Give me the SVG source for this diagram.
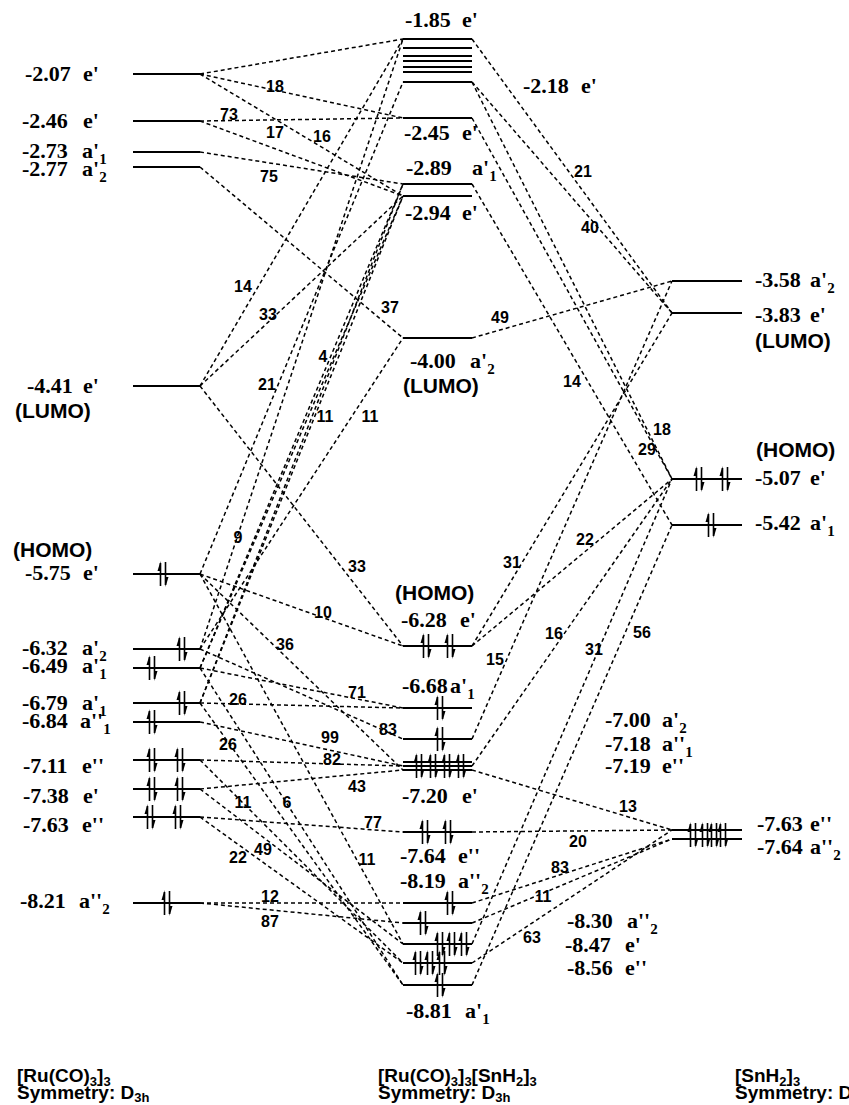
<svg xmlns="http://www.w3.org/2000/svg" xmlns:xlink="http://www.w3.org/1999/xlink" width="849" height="1105" viewBox="0 0 849 1105">
<style>
.lv{stroke:#000;stroke-width:1.8}
.cn path{stroke:#000;stroke-width:1.5;stroke-dasharray:4 3;fill:none}
.e{font-family:"Liberation Serif","Times New Roman",Times,serif;font-weight:bold;font-size:22px;fill:#000}
.sb{font-size:15px}
.s{font-family:"Liberation Sans",Arial,sans-serif;font-weight:bold;font-size:21px;fill:#000}
.n{font-family:"Liberation Sans",Arial,sans-serif;font-weight:bold;font-size:16px;text-anchor:middle;fill:#000}
.b{font-family:"Liberation Sans",Arial,sans-serif;font-weight:bold;font-size:19px;fill:#000}
.b .sb{font-size:13px}
</style>
<defs>
<g id="pr">
<path d="M-2.5,12 V-11 M2.5,-12 V11" stroke="#000" stroke-width="1.6" fill="none"/>
<path d="M-2.5,-13 L-5.5,-3 L-2.5,-3 Z M2.5,13 L5.5,3 L2.5,3 Z" fill="#000"/>
</g>
</defs>
<rect width="849" height="1105" fill="#fff"/>

<g id="connectors" class="cn">
<path d="M200,74 L403,39"/>
<path d="M200,74 L403,118"/>
<path d="M200,74 L403,196"/>
<path d="M200,121 L403,118"/>
<path d="M200,121 L403,196"/>
<path d="M200,152 L403,184"/>
<path d="M200,167 L403,338"/>
<path d="M200,386 L403,39"/>
<path d="M200,386 L403,196"/>
<path d="M200,386 L403,646"/>
<path d="M200,574 L403,82"/>
<path d="M200,574 L403,646"/>
<path d="M200,574 L403,770"/>
<path d="M200,574 L403,944"/>
<path d="M200,649 L403,338"/>
<path d="M200,649 L403,39"/>
<path d="M200,668 L403,184"/>
<path d="M200,668 L403,196"/>
<path d="M200,703 L403,184"/>
<path d="M200,703 L403,196"/>
<path d="M200,649 L403,739"/>
<path d="M200,668 L403,708"/>
<path d="M200,703 L403,708"/>
<path d="M200,722 L403,766"/>
<path d="M200,760 L403,766"/>
<path d="M200,789 L403,770"/>
<path d="M200,817 L403,832"/>
<path d="M200,903 L403,903"/>
<path d="M200,903 L403,923"/>
<path d="M200,817 L403,963"/>
<path d="M200,789 L403,944"/>
<path d="M200,760 L403,963"/>
<path d="M200,668 L403,985"/>
<path d="M200,703 L403,985"/>
<path d="M472,338 L672,281"/>
<path d="M472,39 L672,313"/>
<path d="M472,82 L672,313"/>
<path d="M472,82 L672,479"/>
<path d="M472,118 L672,479"/>
<path d="M472,184 L672,525"/>
<path d="M472,646 L672,479"/>
<path d="M472,646 L672,313"/>
<path d="M472,739 L672,281"/>
<path d="M472,766 L672,479"/>
<path d="M472,944 L672,479"/>
<path d="M472,985 L672,525"/>
<path d="M472,770 L672,830"/>
<path d="M472,832 L672,830"/>
<path d="M472,903 L672,839"/>
<path d="M472,923 L672,839"/>
<path d="M472,963 L672,830"/>
</g>

<g id="connector-labels">
<text class="n" x="275" y="92">18</text>
<text class="n" x="229" y="120">73</text>
<text class="n" x="275" y="138">17</text>
<text class="n" x="322" y="142">16</text>
<text class="n" x="269" y="182">75</text>
<text class="n" x="243" y="292">14</text>
<text class="n" x="268" y="320">33</text>
<text class="n" x="390" y="313">37</text>
<text class="n" x="323" y="362">4</text>
<text class="n" x="267" y="390">21</text>
<text class="n" x="325" y="422">11</text>
<text class="n" x="370" y="422">11</text>
<text class="n" x="238" y="543">9</text>
<text class="n" x="357" y="572">33</text>
<text class="n" x="323" y="618">10</text>
<text class="n" x="285" y="650">36</text>
<text class="n" x="357" y="698">71</text>
<text class="n" x="238" y="705">26</text>
<text class="n" x="388" y="735">83</text>
<text class="n" x="330" y="743">99</text>
<text class="n" x="228" y="750">26</text>
<text class="n" x="332" y="765">82</text>
<text class="n" x="357" y="792">43</text>
<text class="n" x="243" y="808">11</text>
<text class="n" x="287" y="808">6</text>
<text class="n" x="373" y="828">77</text>
<text class="n" x="263" y="855">49</text>
<text class="n" x="238" y="863">22</text>
<text class="n" x="367" y="865">11</text>
<text class="n" x="270" y="902">12</text>
<text class="n" x="270" y="927">87</text>
<text class="n" x="500" y="323">49</text>
<text class="n" x="583" y="177">21</text>
<text class="n" x="590" y="233">40</text>
<text class="n" x="662" y="435">18</text>
<text class="n" x="647" y="455">29</text>
<text class="n" x="572" y="387">14</text>
<text class="n" x="585" y="545">22</text>
<text class="n" x="512" y="568">31</text>
<text class="n" x="495" y="665">15</text>
<text class="n" x="554" y="639">16</text>
<text class="n" x="594" y="655">31</text>
<text class="n" x="642" y="638">56</text>
<text class="n" x="628" y="812">13</text>
<text class="n" x="578" y="847">20</text>
<text class="n" x="560" y="873">83</text>
<text class="n" x="543" y="902">11</text>
<text class="n" x="532" y="943">63</text>
</g>

<g id="L1"><line class="lv" x1="133" y1="74" x2="200" y2="74"/><text class="e" y="81"><tspan x="25">-2.07</tspan><tspan x="83">e'</tspan></text></g>
<g id="L2"><line class="lv" x1="133" y1="121" x2="200" y2="121"/><text class="e" y="128"><tspan x="22">-2.46</tspan><tspan x="83">e'</tspan></text></g>
<g id="L3"><line class="lv" x1="133" y1="152" x2="200" y2="152"/><text class="e" y="158"><tspan x="22">-2.73</tspan><tspan x="82">a'</tspan><tspan class="sb" dy="6">1</tspan></text></g>
<g id="L4"><line class="lv" x1="133" y1="167" x2="200" y2="167"/><text class="e" y="176"><tspan x="22">-2.77</tspan><tspan x="82">a'</tspan><tspan class="sb" dy="6">2</tspan></text></g>
<g id="L5"><line class="lv" x1="133" y1="386" x2="200" y2="386"/><text class="e" y="393"><tspan x="27">-4.41</tspan><tspan x="83">e'</tspan></text><text class="s" x="15" y="418">(LUMO)</text></g>
<g id="L6"><line class="lv" x1="133" y1="574" x2="200" y2="574"/><use xlink:href="#pr" x="163" y="574"/><text class="s" x="13" y="557">(HOMO)</text><text class="e" y="580"><tspan x="25">-5.75</tspan><tspan x="83">e'</tspan></text></g>
<g id="L7"><line class="lv" x1="133" y1="649" x2="200" y2="649"/><use xlink:href="#pr" x="182" y="649"/><text class="e" y="655"><tspan x="22">-6.32</tspan><tspan x="82">a'</tspan><tspan class="sb" dy="6">2</tspan></text></g>
<g id="L8"><line class="lv" x1="133" y1="668" x2="200" y2="668"/><use xlink:href="#pr" x="152" y="668"/><text class="e" y="673"><tspan x="22">-6.49</tspan><tspan x="82">a'</tspan><tspan class="sb" dy="6">1</tspan></text></g>
<g id="L9"><line class="lv" x1="133" y1="703" x2="200" y2="703"/><use xlink:href="#pr" x="182" y="703"/><text class="e" y="710"><tspan x="22">-6.79</tspan><tspan x="82">a'</tspan><tspan class="sb" dy="6">1</tspan></text></g>
<g id="L10"><line class="lv" x1="133" y1="722" x2="200" y2="722"/><use xlink:href="#pr" x="152" y="722"/><text class="e" y="728"><tspan x="22">-6.84</tspan><tspan x="80">a''</tspan><tspan class="sb" dy="6">1</tspan></text></g>
<g id="L11"><line class="lv" x1="133" y1="760" x2="200" y2="760"/><use xlink:href="#pr" x="152" y="760"/><use xlink:href="#pr" x="180" y="760"/><text class="e" y="773"><tspan x="23">-7.11</tspan><tspan x="82">e''</tspan></text></g>
<g id="L12"><line class="lv" x1="133" y1="789" x2="200" y2="789"/><use xlink:href="#pr" x="152" y="789"/><use xlink:href="#pr" x="180" y="789"/><text class="e" y="803"><tspan x="23">-7.38</tspan><tspan x="83">e'</tspan></text></g>
<g id="L13"><line class="lv" x1="133" y1="817" x2="200" y2="817"/><use xlink:href="#pr" x="150" y="817"/><use xlink:href="#pr" x="178" y="817"/><text class="e" y="832"><tspan x="23">-7.63</tspan><tspan x="82">e''</tspan></text></g>
<g id="L14"><line class="lv" x1="133" y1="903" x2="200" y2="903"/><use xlink:href="#pr" x="167" y="903"/><text class="e" y="908"><tspan x="20">-8.21</tspan><tspan x="79">a''</tspan><tspan class="sb" dy="6">2</tspan></text></g>

<g id="C-top">
<line class="lv" x1="403" y1="39" x2="472" y2="39"/>
<line class="lv" x1="403" y1="48" x2="472" y2="48"/>
<line class="lv" x1="403" y1="56" x2="472" y2="56"/>
<line class="lv" x1="403" y1="61" x2="472" y2="61"/>
<line class="lv" x1="403" y1="67" x2="472" y2="67"/>
<line class="lv" x1="403" y1="72" x2="472" y2="72"/>
<line class="lv" x1="403" y1="82" x2="472" y2="82"/>
<text class="e" y="27"><tspan x="405">-1.85</tspan><tspan x="462">e'</tspan></text>
<text class="e" y="93"><tspan x="523">-2.18</tspan><tspan x="581">e'</tspan></text>
</g>
<g id="C8"><line class="lv" x1="403" y1="118" x2="472" y2="118"/><text class="e" y="140"><tspan x="404">-2.45</tspan><tspan x="462">e'</tspan></text></g>
<g id="C9"><line class="lv" x1="403" y1="184" x2="472" y2="184"/><text class="e" y="175"><tspan x="406">-2.89</tspan><tspan x="472">a'</tspan><tspan class="sb" dy="6">1</tspan></text></g>
<g id="C10"><line class="lv" x1="403" y1="196" x2="472" y2="196"/><text class="e" y="220"><tspan x="405">-2.94</tspan><tspan x="462">e'</tspan></text></g>
<g id="C11"><line class="lv" x1="403" y1="338" x2="472" y2="338"/><text class="e" y="368"><tspan x="410">-4.00</tspan><tspan x="470">a'</tspan><tspan class="sb" dy="6">2</tspan></text><text class="s" x="403" y="393">(LUMO)</text></g>
<g id="C12"><line class="lv" x1="403" y1="646" x2="472" y2="646"/><use xlink:href="#pr" x="426" y="646"/><use xlink:href="#pr" x="450" y="646"/><text class="s" x="395" y="600">(HOMO)</text><text class="e" y="627"><tspan x="401">-6.28</tspan><tspan x="460">e'</tspan></text></g>
<g id="C13"><line class="lv" x1="403" y1="708" x2="472" y2="708"/><use xlink:href="#pr" x="440" y="708"/><text class="e" y="693"><tspan x="402">-6.68</tspan><tspan x="450">a'</tspan><tspan class="sb" dy="6">1</tspan></text></g>
<g id="C14"><line class="lv" x1="403" y1="739" x2="472" y2="739"/><use xlink:href="#pr" x="440" y="739"/></g>
<g id="C15">
<line class="lv" x1="403" y1="762" x2="472" y2="762"/>
<line class="lv" x1="403" y1="766" x2="472" y2="766"/>
<line class="lv" x1="403" y1="770" x2="472" y2="770"/>
<use xlink:href="#pr" x="419" y="766"/><use xlink:href="#pr" x="433" y="766"/><use xlink:href="#pr" x="447" y="766"/><use xlink:href="#pr" x="461" y="766"/>
<text class="e" y="803"><tspan x="402">-7.20</tspan><tspan x="462">e'</tspan></text>
<text class="e" y="727"><tspan x="605">-7.00</tspan><tspan x="662">a'</tspan><tspan class="sb" dy="6">2</tspan></text>
<text class="e" y="751"><tspan x="605">-7.18</tspan><tspan x="662">a''</tspan><tspan class="sb" dy="6">1</tspan></text>
<text class="e" y="773"><tspan x="605">-7.19</tspan><tspan x="662">e''</tspan></text>
</g>
<g id="C16"><line class="lv" x1="403" y1="832" x2="472" y2="832"/><use xlink:href="#pr" x="425" y="832"/><use xlink:href="#pr" x="448" y="832"/><text class="e" y="863"><tspan x="400">-7.64</tspan><tspan x="458">e''</tspan></text></g>
<g id="C17"><line class="lv" x1="403" y1="903" x2="472" y2="903"/><use xlink:href="#pr" x="450" y="903"/><text class="e" y="888"><tspan x="400">-8.19</tspan><tspan x="458">a''</tspan><tspan class="sb" dy="6">2</tspan></text></g>
<g id="C18"><line class="lv" x1="403" y1="923" x2="472" y2="923"/><use xlink:href="#pr" x="423" y="923"/><text class="e" y="928"><tspan x="567">-8.30</tspan><tspan x="627">a''</tspan><tspan class="sb" dy="6">2</tspan></text></g>
<g id="C19"><line class="lv" x1="403" y1="944" x2="472" y2="944"/><use xlink:href="#pr" x="440" y="944"/><use xlink:href="#pr" x="452" y="944"/><use xlink:href="#pr" x="464" y="944"/><text class="e" y="952"><tspan x="565">-8.47</tspan><tspan x="625">e'</tspan></text></g>
<g id="C20"><line class="lv" x1="403" y1="963" x2="472" y2="963"/><use xlink:href="#pr" x="418" y="963"/><use xlink:href="#pr" x="430" y="963"/><use xlink:href="#pr" x="442" y="963"/><text class="e" y="975"><tspan x="567">-8.56</tspan><tspan x="625">e''</tspan></text></g>
<g id="C21"><line class="lv" x1="403" y1="985" x2="472" y2="985"/><use xlink:href="#pr" x="440" y="985"/><text class="e" y="1018"><tspan x="406">-8.81</tspan><tspan x="465">a'</tspan><tspan class="sb" dy="6">1</tspan></text></g>

<g id="R1"><line class="lv" x1="672" y1="281" x2="742" y2="281"/><text class="e" y="287"><tspan x="755">-3.58</tspan><tspan x="810">a'</tspan><tspan class="sb" dy="6">2</tspan></text></g>
<g id="R2"><line class="lv" x1="672" y1="313" x2="742" y2="313"/><text class="e" y="322"><tspan x="755">-3.83</tspan><tspan x="810">e'</tspan></text><text class="s" x="755" y="348">(LUMO)</text></g>
<g id="R3"><line class="lv" x1="672" y1="479" x2="742" y2="479"/><use xlink:href="#pr" x="699" y="479"/><use xlink:href="#pr" x="725" y="479"/><text class="s" x="756" y="457">(HOMO)</text><text class="e" y="485"><tspan x="755">-5.07</tspan><tspan x="810">e'</tspan></text></g>
<g id="R4"><line class="lv" x1="672" y1="525" x2="742" y2="525"/><use xlink:href="#pr" x="711" y="525"/><text class="e" y="530"><tspan x="755">-5.42</tspan><tspan x="810">a'</tspan><tspan class="sb" dy="6">1</tspan></text></g>
<g id="R5"><line class="lv" x1="672" y1="830" x2="742" y2="830"/><use xlink:href="#pr" x="693" y="835"/><use xlink:href="#pr" x="705" y="835"/><text class="e" y="831"><tspan x="757">-7.63</tspan><tspan x="810">e''</tspan></text></g>
<g id="R6"><line class="lv" x1="672" y1="839" x2="742" y2="839"/><use xlink:href="#pr" x="714" y="835"/><use xlink:href="#pr" x="723" y="835"/><text class="e" y="854"><tspan x="757">-7.64</tspan><tspan x="810">a''</tspan><tspan class="sb" dy="6">2</tspan></text></g>

<g id="captions">
<text class="b" x="17" y="1082">[Ru(CO)<tspan class="sb" dy="4">3</tspan><tspan dy="-4">]</tspan><tspan class="sb" dy="4">3</tspan></text>
<text class="b" x="17" y="1099">Symmetry: D<tspan class="sb" dy="3">3h</tspan></text>
<text class="b" x="378" y="1082">[Ru(CO)<tspan class="sb" dy="4">3</tspan><tspan dy="-4">]</tspan><tspan class="sb" dy="4">3</tspan><tspan dy="-4">[SnH</tspan><tspan class="sb" dy="4">2</tspan><tspan dy="-4">]</tspan><tspan class="sb" dy="4">3</tspan></text>
<text class="b" x="378" y="1099">Symmetry: D<tspan class="sb" dy="3">3h</tspan></text>
<text class="b" x="735" y="1082">[SnH<tspan class="sb" dy="4">2</tspan><tspan dy="-4">]</tspan><tspan class="sb" dy="4">3</tspan></text>
<text class="b" x="735" y="1099">Symmetry: D<tspan class="sb" dy="3">3h</tspan></text>
</g>
</svg>
